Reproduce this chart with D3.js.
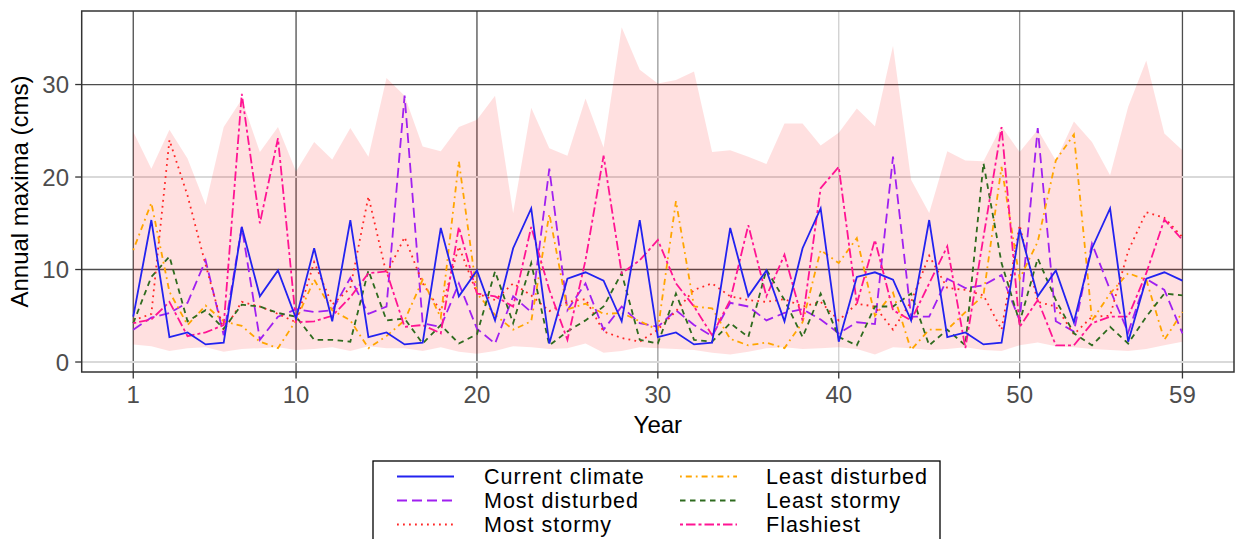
<!DOCTYPE html>
<html>
<head>
<meta charset="utf-8">
<script src="https://cdn.jsdelivr.net/npm/d3@7"></script>
<style>
  html, body { margin: 0; padding: 0; background: #ffffff; }
  svg { display: block; font-family: "Liberation Sans", Arial, sans-serif; }
</style>
</head>
<body>
<svg id="chart" width="1236" height="539"></svg>
<script>
// Simulation years
const years = [1,2,3,4,5,6,7,8,9,10,11,12,13,14,15,16,17,18,19,20,
  21,22,23,24,25,26,27,28,29,30,31,32,33,34,35,36,37,38,39,40,
  41,42,43,44,45,46,47,48,49,50,51,52,53,54,55,56,57,58,59];

// Annual maxima (cms) for each scenario
const currentClimate = [4.9,15.35,2.7,3.2,1.9,2.1,14.6,7.1,9.9,4.7,
  12.3,4.4,15.35,2.7,3.2,1.9,2.1,14.5,7.1,9.9,
  4.5,12.3,16.6,2.0,9.0,9.7,8.8,4.4,15.35,2.7,
  3.2,1.9,2.1,14.5,7.1,9.9,4.4,12.3,16.6,2.2,
  9.2,9.7,8.9,4.5,15.35,2.7,3.2,1.9,2.1,14.4,
  7.1,9.9,4.3,12.3,16.6,2.2,9.0,9.7,8.8];
const mostDisturbed = [3.5,4.8,5.3,6.4,11.0,2.9,14.6,2.4,4.9,5.7,
  5.4,5.6,9.1,5.2,6.0,28.8,4.2,3.8,8.5,3.6,
  2.0,7.1,5.4,20.9,5.6,8.5,3.5,6.0,4.2,3.8,
  5.6,4.0,2.8,6.4,6.0,4.5,5.3,5.7,4.6,3.1,
  4.3,4.1,22.2,4.9,4.9,9.0,8.0,8.3,9.4,4.5,
  25.3,4.4,3.3,12.8,7.8,3.2,9.0,7.8,3.1];
const mostStormy = [4.5,5.2,24.0,18.0,10.5,3.4,6.5,6.0,5.2,4.3,
  10.8,6.2,8.0,17.9,9.5,13.5,8.5,5.5,12.5,7.4,
  6.7,8.5,7.2,5.5,6.5,6.8,3.3,2.6,2.2,3.5,
  5.5,7.8,8.5,7.1,6.7,6.5,6.8,6.0,6.5,4.5,
  6.3,6.0,3.5,6.5,11.5,8.0,7.8,7.2,3.5,14.8,
  6.5,6.0,3.0,4.9,5.0,12.0,16.2,15.6,13.5];
const leastDisturbed = [12.1,17.2,7.6,4.0,6.1,4.4,3.9,2.2,1.5,4.5,
  8.9,5.6,4.5,1.5,2.8,4.5,8.9,4.8,21.7,7.4,
  5.1,3.5,4.4,16.0,5.7,6.3,5.2,5.3,4.4,3.5,
  17.4,6.0,5.8,2.5,1.8,2.1,1.5,4.3,12.1,10.7,
  13.4,5.0,7.5,1.3,3.5,3.5,5.4,7.2,21.1,9.0,
  13.0,21.8,24.6,4.5,7.4,9.6,8.9,2.4,5.4];
const leastStormy = [4.2,9.2,11.4,4.4,5.6,3.6,6.2,6.0,5.3,4.9,
  2.4,2.4,2.2,9.9,4.5,4.7,2.0,4.0,2.0,3.0,
  9.8,4.2,10.7,1.8,3.3,4.5,6.0,9.6,2.4,2.0,
  7.4,2.4,2.2,4.2,2.7,10.0,6.7,2.7,7.4,2.7,
  1.8,6.0,6.0,7.4,1.8,3.5,1.8,21.5,10.7,4.3,
  11.2,6.7,3.1,1.8,3.8,2.0,4.9,7.4,7.2];
const flashiest = [4.2,4.6,6.5,2.8,3.2,4.0,29.0,15.0,24.2,4.3,
  4.4,5.0,7.0,9.6,9.8,3.8,4.0,3.1,14.6,7.4,
  7.1,6.0,14.6,7.8,2.4,11.0,22.3,9.6,11.0,13.2,
  8.5,6.0,2.9,6.7,14.8,7.1,11.6,4.5,18.8,21.1,
  6.3,13.2,5.6,4.5,8.5,12.5,1.5,13.5,25.4,3.8,
  6.7,1.8,1.8,4.2,4.9,4.9,9.6,15.4,13.2];

// Range of annual maxima across the ensemble (shaded band)
const bandLower = [1.9,1.7,1.2,1.5,1.6,1.1,1.4,1.5,1.6,1.3,
  1.4,1.6,1.2,1.7,1.5,1.5,1.2,1.6,1.1,0.9,
  1.2,1.7,1.6,1.4,1.5,2.0,1.0,1.2,1.6,1.5,
  1.4,1.3,1.0,0.8,1.1,1.5,1.6,1.4,1.5,1.6,
  1.4,0.8,1.6,1.5,1.3,1.4,1.6,1.3,1.2,1.8,
  2.1,1.7,1.6,1.4,1.3,1.2,1.4,1.8,2.2];
const bandUpper = [24.9,20.9,25.1,22.0,17.0,25.4,28.4,22.7,25.4,20.6,
  23.8,21.9,25.3,22.2,30.7,28.8,23.3,22.8,25.4,26.2,
  28.8,16.1,27.5,23.1,22.3,28.5,23.2,36.2,31.6,30.1,
  30.5,31.4,22.7,22.9,22.2,21.4,25.8,25.8,23.4,24.8,
  27.4,25.5,34.2,19.7,16.1,22.8,21.8,21.7,25.5,22.7,
  25.1,21.8,26.0,23.8,20.2,27.6,32.6,24.7,22.9];

// Axis breaks
const xTicks = [1, 10, 20, 30, 40, 50, 59];
const yTicks = [0, 10, 20, 30];

const seriesNames = ["Current climate", "Most disturbed", "Most stormy",
                     "Least disturbed", "Least stormy", "Flashiest"];
const seriesValues = [currentClimate, mostDisturbed, mostStormy,
                      leastDisturbed, leastStormy, flashiest];

// Per-scenario line appearance (ggplot-style linetypes)
const styles = {
  "Current climate": { color: "#2222f0", dash: null },
  "Most disturbed":  { color: "#a020f0", dash: "10,5" },
  "Most stormy":     { color: "#ff2626", dash: "1.8,4.2" },
  "Least disturbed": { color: "#ffa500", dash: "1.8,4,6,4" },
  "Least stormy":    { color: "#2e6b1e", dash: "5.5,4.5" },
  "Flashiest":       { color: "#ff1493", dash: "3,3,9.5,3" }
};
const lineWidth = 1.8;

const svg = d3.select("#chart");
const panel = { left: 81.7, right: 1234, top: 11, bottom: 372 };

const x = d3.scaleLinear().domain([1 - 2.85, 59 + 2.85]).range([panel.left, panel.right]);
const y = d3.scaleLinear().domain([-1.08, 37.95]).range([panel.bottom, panel.top]);

svg.append("rect").attr("width", 1236).attr("height", 539).attr("fill", "#ffffff");

// Grid lines
const xGridShade = { 1: "#4d4d4d", 10: "#4d4d4d", 20: "#4d4d4d", 30: "#9a9a9a", 40: "#cfcfcf", 50: "#8f8f8f", 59: "#4d4d4d" };
const yGridShade = { 0: "#d9d9d9", 10: "#4d4d4d", 20: "#d9d9d9", 30: "#4d4d4d" };

const grid = svg.append("g");
grid.selectAll("line.gx").data(xTicks).join("line")
  .attr("x1", d => x(d)).attr("x2", d => x(d))
  .attr("y1", panel.top).attr("y2", panel.bottom)
  .attr("stroke", d => xGridShade[d]).attr("stroke-width", 1.3);
grid.selectAll("line.gy").data(yTicks).join("line")
  .attr("x1", panel.left).attr("x2", panel.right)
  .attr("y1", d => y(d)).attr("y2", d => y(d))
  .attr("stroke", d => yGridShade[d]).attr("stroke-width", d => (d === 0 || d === 20) ? 1.8 : 1.3);

// Shaded band
const area = d3.area()
  .x((d, i) => x(years[i]))
  .y0((d, i) => y(bandLower[i]))
  .y1((d, i) => y(bandUpper[i]));
svg.append("path").datum(years).attr("d", area)
  .attr("fill", "#ff0000").attr("fill-opacity", 0.12);

// Scenario lines (current climate drawn last so it sits on top)
const line = d3.line().x((d, i) => x(years[i])).y(d => y(d));
const drawOrder = [1, 2, 3, 4, 5, 0];
const lines = svg.append("g").attr("fill", "none");
drawOrder.forEach(k => {
  const st = styles[seriesNames[k]];
  lines.append("path").datum(seriesValues[k]).attr("d", line)
    .attr("stroke", st.color).attr("stroke-width", lineWidth)
    .attr("stroke-dasharray", st.dash);
});

// Panel border
svg.append("rect")
  .attr("x", panel.left).attr("y", panel.top)
  .attr("width", panel.right - panel.left).attr("height", panel.bottom - panel.top)
  .attr("fill", "none").attr("stroke", "#333333").attr("stroke-width", 1.5);

// Axes
const xAxis = svg.append("g");
xAxis.selectAll("line").data(xTicks).join("line")
  .attr("x1", d => x(d)).attr("x2", d => x(d))
  .attr("y1", panel.bottom).attr("y2", panel.bottom + 6.5)
  .attr("stroke", "#333333").attr("stroke-width", 1.3);
xAxis.selectAll("text").data(xTicks).join("text")
  .attr("x", d => x(d)).attr("y", 403)
  .attr("text-anchor", "middle").attr("font-size", 24).attr("fill", "#4d4d4d")
  .text(d => d);

const yAxis = svg.append("g");
yAxis.selectAll("line").data(yTicks).join("line")
  .attr("x1", panel.left - 6.5).attr("x2", panel.left)
  .attr("y1", d => y(d)).attr("y2", d => y(d))
  .attr("stroke", "#333333").attr("stroke-width", 1.3);
yAxis.selectAll("text").data(yTicks).join("text")
  .attr("x", 69).attr("y", d => y(d) + 8.6)
  .attr("text-anchor", "end").attr("font-size", 24).attr("fill", "#4d4d4d")
  .text(d => d);

svg.append("text")
  .attr("x", (panel.left + panel.right) / 2).attr("y", 433)
  .attr("text-anchor", "middle").attr("font-size", 24).attr("fill", "#000000")
  .text("Year");
svg.append("text")
  .attr("transform", `translate(28,${(panel.top + panel.bottom) / 2}) rotate(-90)`)
  .attr("text-anchor", "middle").attr("font-size", 24).attr("fill", "#000000")
  .text("Annual maxima (cms)");

// Legend (two columns, filled column by column)
const legend = svg.append("g");
legend.append("rect")
  .attr("x", 373).attr("y", 461).attr("width", 567).attr("height", 100)
  .attr("fill", "#ffffff").attr("stroke", "#000000").attr("stroke-width", 1.3);
const colKeyX = [397, 680];
const colTextX = [484, 766];
const rowY = [476.5, 500.5, 524.5];
seriesNames.forEach((name, i) => {
  const col = Math.floor(i / 3), row = i % 3;
  const st = styles[name];
  legend.append("line")
    .attr("x1", colKeyX[col]).attr("x2", colKeyX[col] + 57)
    .attr("y1", rowY[row]).attr("y2", rowY[row])
    .attr("stroke", st.color).attr("stroke-width", lineWidth)
    .attr("stroke-dasharray", st.dash);
  legend.append("text")
    .attr("x", colTextX[col]).attr("y", rowY[row] + 7.7)
    .attr("font-size", 21.5).attr("letter-spacing", 1).attr("fill", "#000000")
    .text(name);
});
</script>
</body>
</html>
